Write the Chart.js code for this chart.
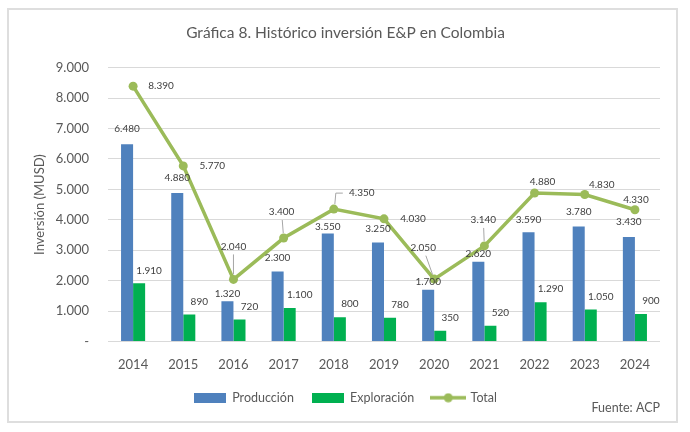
<!DOCTYPE html>
<html><head><meta charset="utf-8">
<script src="https://cdn.jsdelivr.net/npm/chart.js@4.4.1/dist/chart.umd.min.js"></script>
<style>
html,body{margin:0;padding:0;background:#fff;}
#wrap{position:relative;width:690px;height:432px;overflow:hidden;}
#frame{position:absolute;left:7px;top:8px;width:671px;height:415px;border:2px solid #dedede;box-sizing:border-box;}
#c{position:absolute;left:0;top:0;}
</style></head>
<body><div id="wrap"><div id="frame"></div><canvas id="c" width="690" height="432"></canvas></div>
<script>
const years = ['2014','2015','2016','2017','2018','2019','2020','2021','2022','2023','2024'];
const produccion = [6480,4880,1320,2300,3550,3250,1700,2620,3590,3780,3430];
const exploracion = [1910,890,720,1100,800,780,350,520,1290,1050,900];
const total = [8390,5770,2040,3400,4350,4030,2050,3140,4880,4830,4330];
const yTicks = [0,1000,2000,3000,4000,5000,6000,7000,8000,9000];

// label placement (pixels, relative to the mark)
const prodLabelDy = [-16,-15,-8,-14,-7,-14,-8,-8,-12,-15,-15];
const totLabelOff = [[28,0],[29,0],[0,-33],[-2,-26],[28,-16],[29,0],[-11,-31],[-1,-26],[8,-11],[17,-10],[1,-10]];
const totLeader = [false,false,true,true,true,false,true,true,false,false,false];

const BLUE = '#4F81BD', GREEN = '#00B050', OLIVE = '#9BBB59';
const TXT = '#595959', LBL = '#404040';
Chart.defaults.font.family = 'Lato';
Chart.defaults.color = TXT;

function fmt(v){ return String(v).replace(/\B(?=(\d{3})+(?!\d))/g,'.'); }
function boxImg(color){ const c=document.createElement('canvas'); c.width=32; c.height=10; const x=c.getContext('2d'); x.fillStyle=color; x.fillRect(0,0,32,10); return c; }
function lineImg(color){ const c=document.createElement('canvas'); c.width=36; c.height=10; const x=c.getContext('2d'); x.strokeStyle=color; x.lineWidth=3.5; x.beginPath(); x.moveTo(0,5); x.lineTo(36,5); x.stroke(); x.fillStyle=color; x.beginPath(); x.arc(18,5,4.5,0,Math.PI*2); x.fill(); return c; }

const labelPlugin = {
  id:'labels',
  afterDatasetsDraw(chart){
    const ctx = chart.ctx;
    ctx.save();
    ctx.font = '10px Lato';
    ctx.fillStyle = LBL;
    ctx.textAlign = 'center';
    ctx.textBaseline = 'middle';
    const m0 = chart.getDatasetMeta(0), m1 = chart.getDatasetMeta(1), m2 = chart.getDatasetMeta(2);
    m0.data.forEach((el,i)=>{ ctx.fillText(fmt(produccion[i]), el.x, el.y + prodLabelDy[i]); });
    m1.data.forEach((el,i)=>{ ctx.fillText(fmt(exploracion[i]), el.x + 10, el.y - 13); });
    m2.data.forEach((el,i)=>{
      const lx = el.x + totLabelOff[i][0], ly = el.y + totLabelOff[i][1];
      if (totLeader[i]) {
        ctx.save();
        ctx.strokeStyle = '#a6a6a6'; ctx.lineWidth = 1;
        ctx.beginPath();
        if (i === 4) {
          ctx.moveTo(el.x+1, el.y-5); ctx.lineTo(el.x+2, ly); ctx.lineTo(el.x+9, ly);
        } else {
          const dx = lx - el.x, dy = ly - el.y, d = Math.hypot(dx,dy);
          ctx.moveTo(el.x + dx/d*5, el.y + dy/d*5);
          ctx.lineTo(lx - dx/d*8, ly - dy/d*8);
        }
        ctx.stroke();
        ctx.restore();
      }
      ctx.fillText(fmt(total[i]), lx, ly);
    });
    ctx.restore();
  },
  afterDraw(chart){
    const ctx = chart.ctx;
    ctx.save();
    ctx.font = '12.5px Lato';
    ctx.fillStyle = TXT;
    ctx.textAlign = 'right';
    ctx.textBaseline = 'middle';
    ctx.fillText('Fuente: ACP', 660, 408);
    ctx.restore();
  }
};

new Chart(document.getElementById('c'), {
  type:'bar',
  data:{
    labels: years,
    datasets:[
      {label:'Producción', data: produccion, backgroundColor: BLUE, order:1, barPercentage:1, categoryPercentage:0.48},
      {label:'Exploración', data: exploracion, backgroundColor: GREEN, order:1, barPercentage:1, categoryPercentage:0.48},
      {label:'Total', type:'line', data: total, borderColor: OLIVE, backgroundColor: OLIVE, borderWidth:3.5, pointRadius:4.5, pointBackgroundColor: OLIVE, pointBorderWidth:0, tension:0, order:0}
    ]
  },
  options:{
    responsive:false,
    animation:false,
    devicePixelRatio: 1,
    layout:{padding:{left:31,right:30,top:0,bottom:18}},
    plugins:{
      tooltip:{enabled:false},
      title:{display:true, text:'Gráfica 8. Histórico inversión E&P en Colombia', color:TXT, font:{size:15.5, weight:'normal'}, padding:{top:24,bottom:25}},
      legend:{
        position:'bottom',
        labels:{
          usePointStyle:true, pointStyleWidth:32, boxHeight:10, padding:18, color:TXT, font:{size:12.5},
          generateLabels(){
            return [
              {text:'Producción', pointStyle: boxImg(BLUE), fillStyle:BLUE, strokeStyle:'transparent', lineWidth:0, datasetIndex:0, fontColor:TXT},
              {text:'Exploración', pointStyle: boxImg(GREEN), fillStyle:GREEN, strokeStyle:'transparent', lineWidth:0, datasetIndex:1, fontColor:TXT},
              {text:'Total', pointStyle: lineImg(OLIVE), fillStyle:OLIVE, strokeStyle:'transparent', lineWidth:0, datasetIndex:2, fontColor:TXT}
            ];
          }
        }
      }
    },
    scales:{
      x:{
        grid:{display:false},
        border:{display:false},
        ticks:{color:TXT, font:{size:13}, padding:8, maxRotation:0},
        afterFit(s){ s.height = 32; }
      },
      y:{
        min:0, max:9000,
        afterBuildTicks(s){ s.ticks = yTicks.map(v=>({value:v})); },
        grid:{color:'#d9d9d9', lineWidth:1, drawTicks:false},
        border:{display:false},
        ticks:{color:TXT, font:{size:13}, padding:19, callback:(v)=> v===0 ? '-' : fmt(v)},
        title:{display:true, text:'Inversión (MUSD)', color:TXT, font:{size:13}, padding:{top:1,bottom:0}},
        afterFit(s){ s.width = 77; }
      }
    }
  },
  plugins:[labelPlugin]
});
</script>
</body></html>
